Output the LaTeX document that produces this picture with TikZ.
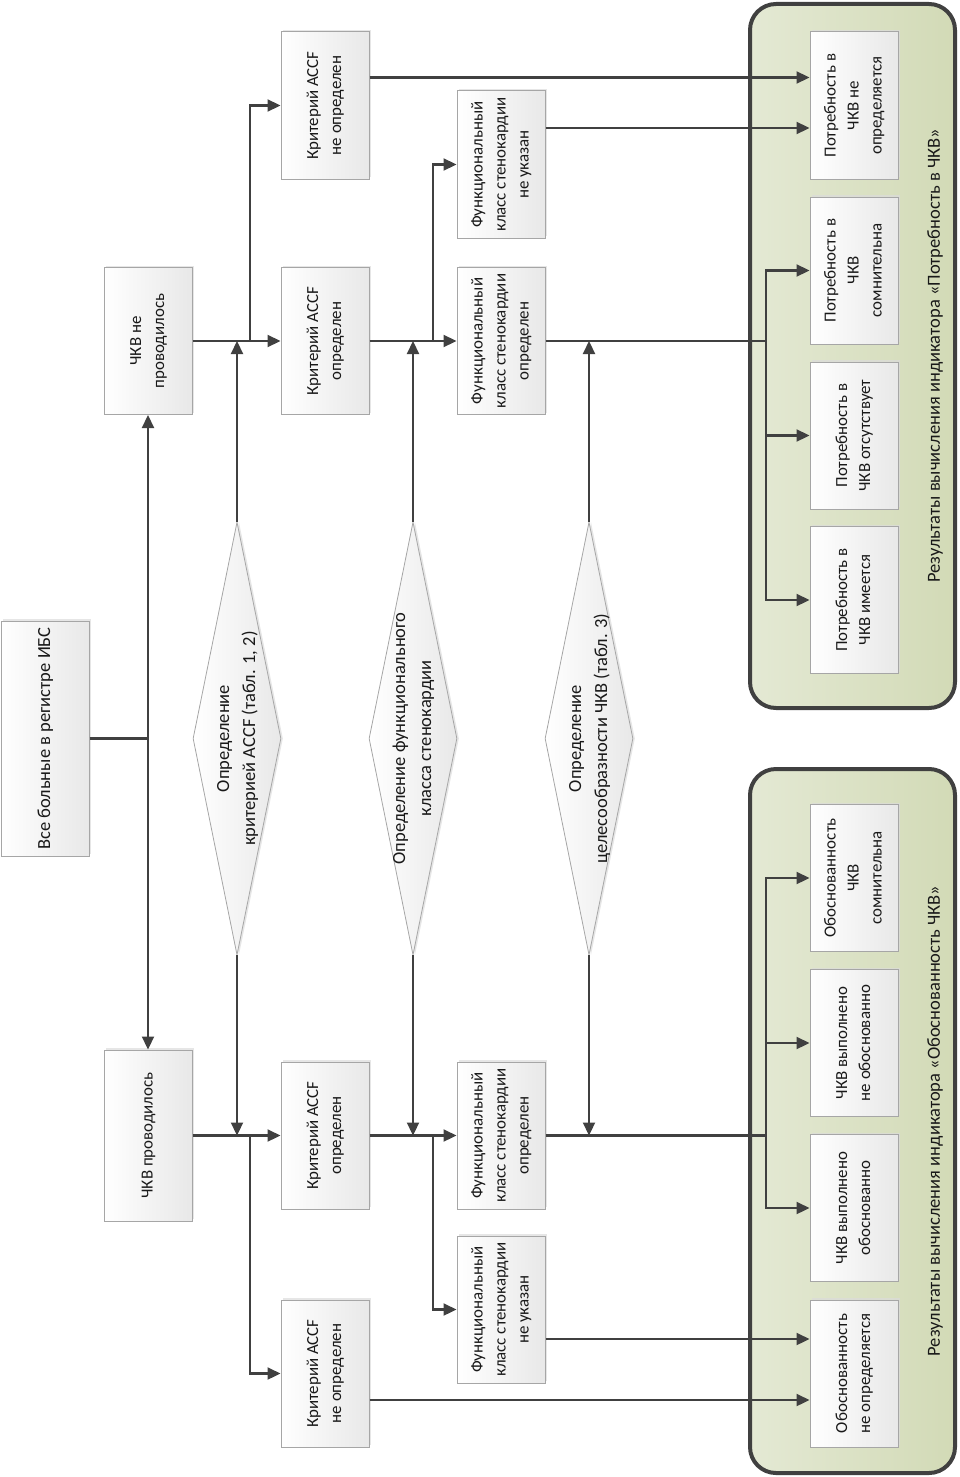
\documentclass[tikz,border=0pt]{standalone}
\usepackage{fontspec}
\setmainfont{Carlito}
\usepackage{graphicx}
\usetikzlibrary{arrows.meta,shapes.geometric,shadows}

\definecolor{lnc}{HTML}{404040}
\definecolor{boxc}{HTML}{A6A6A6}
\definecolor{grpl}{HTML}{E4E9D4}
\definecolor{grpr}{HTML}{D2DAB6}

\newcommand{\vtxt}[1]{\rotatebox{90}{\begin{tabular}{@{}c@{}}#1\end{tabular}}}

\begin{document}
\begin{tikzpicture}[x=1pt,y=-1pt,
  font=\fontsize{16.9}{23}\selectfont,
  big/.style={font=\fontsize{18.5}{26}\selectfont},
  box/.style={draw=boxc, line width=1pt, left color=white, right color=black!9,
    minimum width=88pt, minimum height=147pt, inner sep=0pt, text=black!90,
    drop shadow={shadow xshift=2pt, shadow yshift=2pt, fill=black!14, opacity=0.7}},
  dia/.style={diamond, draw=boxc, line width=0.8pt, left color=white, right color=black!9,
    minimum width=88pt, minimum height=433pt, inner sep=0pt,
    drop shadow={shadow xshift=2pt, shadow yshift=0pt, fill=black!14, opacity=0.7}},
  grp/.style={draw=lnc, line width=4pt, rounded corners=26pt, left color=grpl, right color=grpr,
    minimum width=205pt, minimum height=704pt, inner sep=0pt},
  ln/.style={draw=lnc, line width=2.2pt},
  arr/.style={ln, -{Triangle[length=13pt,width=12pt]}}]

  \useasboundingbox (0,0) rectangle (960,1477);

  % Result groups
  \node[grp] (ng) at (852.5,356) {};
  \node[grp] (jg) at (852.5,1121) {};
  \node[big, rotate=90, text=black!90] (nglbl) at (935,356) {Результаты вычисления индикатора «Потребность в ЧКВ»};
  \node[big, rotate=90, text=black!90] (jglbl) at (935,1121) {Результаты вычисления индикатора «Обоснованность ЧКВ»};

  % Results: need for PCI
  \node[box] (nd1) at (854,105.5) {\vtxt{Потребность в\\ЧКВ не\\определяется}};
  \node[box] (nd2) at (854,270.5) {\vtxt{Потребность в\\ЧКВ\\сомнительна}};
  \node[box] (nd3) at (854,435.5) {\vtxt{Потребность в\\ЧКВ отсутствует}};
  \node[box] (nd4) at (854,600) {\vtxt{Потребность в\\ЧКВ имеется}};

  % Results: justification of PCI
  \node[box] (jd1) at (854,878) {\vtxt{Обоснованность\\ЧКВ\\сомнительна}};
  \node[box] (jd2) at (854,1043) {\vtxt{ЧКВ выполнено\\не обоснованно}};
  \node[box] (jd3) at (854,1208) {\vtxt{ЧКВ выполнено\\обоснованно}};
  \node[box] (jd4) at (854,1373.5) {\vtxt{Обоснованность\\не определяется}};

  % Start and PCI split
  \node[box, big, minimum height=235pt] (all) at (45,738.5) {\vtxt{Все больные в регистре ИБС}};
  \node[box] (nopci) at (148,341) {\vtxt{ЧКВ не\\проводилось}};
  \node[box, minimum height=171pt] (pci) at (148,1135.5) {\vtxt{ЧКВ проводилось}};

  % ACCF criteria
  \node[box] (acn1) at (325,105.5) {\vtxt{Критерий ACCF\\не определен}};
  \node[box] (acd1) at (325,341) {\vtxt{Критерий ACCF\\определен}};
  \node[box] (acd2) at (325,1135.5) {\vtxt{Критерий ACCF\\определен}};
  \node[box] (acn2) at (325,1373.5) {\vtxt{Критерий ACCF\\не определен}};

  % Functional class
  \node[box] (fcn1) at (501,164.5) {\vtxt{Функциональный\\класс стенокардии\\не указан}};
  \node[box] (fcd1) at (501,341) {\vtxt{Функциональный\\класс стенокардии\\определен}};
  \node[box] (fcd2) at (501,1135.5) {\vtxt{Функциональный\\класс стенокардии\\определен}};
  \node[box] (fcn2) at (501,1309.5) {\vtxt{Функциональный\\класс стенокардии\\не указан}};

  % Decision steps
  \node[dia] (d1) at (237,738.5) {};
  \node[big, text=black!90] (d1t) at (d1) {\vtxt{Определение\\критерией ACCF (табл. 1, 2)}};
  \node[dia] (d2) at (413,738.5) {};
  \node[big, text=black!90] (d2t) at (d2) {\vtxt{Определение функционального\\класса стенокардии}};
  \node[dia] (d3) at (589,738.5) {};
  \node[big, text=black!90] (d3t) at (d3) {\vtxt{Определение\\целесообразности ЧКВ (табл. 3)}};

  % Branch points
  \coordinate (s0) at (all.east -| nopci.south);
  \coordinate (b1) at (250,341);
  \coordinate (b2) at (433,341);
  \coordinate (b3) at (250,1135.5);
  \coordinate (b4) at (433,1135.5);
  \coordinate (bus1) at (766,341);
  \coordinate (bus2) at (766,1135.5);

  % Start to PCI / no PCI
  \draw[ln] (all.east) -- (s0);
  \draw[arr] (s0) -- (nopci.south);
  \draw[arr] (s0) -- (pci.north);

  % Upper half
  \draw[arr] (nopci.east) -- (acd1.west);
  \draw[arr] (b1) |- (acn1.west);
  \draw[arr] (acd1.east) -- (fcd1.west);
  \draw[arr] (b2) |- (fcn1.west);
  \draw[ln] (fcd1.east) -- (bus1);
  \draw[arr] (bus1) |- (nd2.west);
  \draw[arr] (bus1) |- (nd3.west);
  \draw[arr] (bus1) |- (nd4.west);
  \draw[arr] ([yshift=28pt]acn1.east) -- ([yshift=28pt]acn1.east -| nd1.west);
  \draw[arr] ([yshift=36.5pt]fcn1.east) -- ([yshift=36.5pt]fcn1.east -| nd1.west);

  % Lower half
  \draw[arr] (pci.east) -- (acd2.west);
  \draw[arr] (b3) |- (acn2.west);
  \draw[arr] (acd2.east) -- (fcd2.west);
  \draw[arr] (b4) |- (fcn2.west);
  \draw[ln] (fcd2.east) -- (bus2);
  \draw[arr] (bus2) |- (jd1.west);
  \draw[arr] (bus2) |- (jd2.west);
  \draw[arr] (bus2) |- (jd3.west);
  \draw[arr] ([yshift=-26.5pt]acn2.east) -- ([yshift=-26.5pt]acn2.east -| jd4.west);
  \draw[arr] ([yshift=-29.5pt]fcn2.east) -- ([yshift=-29.5pt]fcn2.east -| jd4.west);

  % Decision steps to both halves
  \draw[arr] (d1.north) -- (d1.north |- acd1.west);
  \draw[arr] (d1.south) -- (d1.south |- acd2.west);
  \draw[arr] (d2.north) -- (d2.north |- fcd1.west);
  \draw[arr] (d2.south) -- (d2.south |- fcd2.west);
  \draw[arr] (d3.north) -- (d3.north |- fcd1.east);
  \draw[arr] (d3.south) -- (d3.south |- fcd2.east);

\end{tikzpicture}
\end{document}
